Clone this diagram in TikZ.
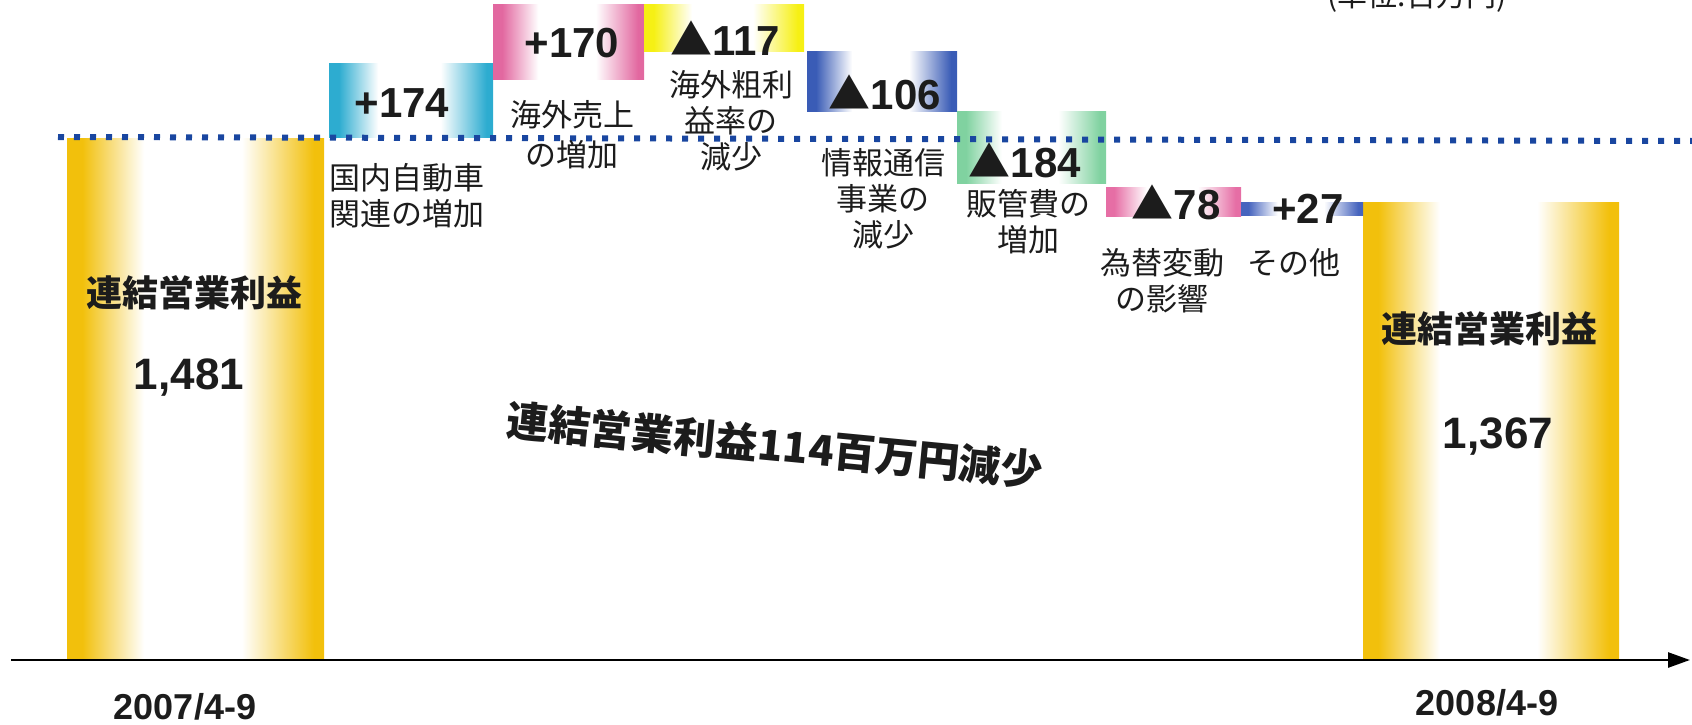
\documentclass[tikz,border=0pt]{standalone}
\usepackage{fontspec}
\setmainfont{Liberation Sans}
\newfontfamily\cjk{Noto Sans CJK JP}
\usetikzlibrary{arrows.meta}

\definecolor{gold}{RGB}{242,192,12}
\definecolor{cyanb}{RGB}{45,172,208}
\definecolor{pinka}{RGB}{226,104,160}
\definecolor{yelb}{RGB}{246,240,20}
\definecolor{blueb}{RGB}{58,92,182}
\definecolor{greenb}{RGB}{128,210,160}
\definecolor{pinkb}{RGB}{230,110,165}
\definecolor{bluec}{RGB}{70,100,190}
\definecolor{ink}{RGB}{28,28,28}
\definecolor{dotblue}{RGB}{25,70,160}

\newcommand\mkshade[2]{\pgfdeclarehorizontalshading{#1}{100bp}{color(0bp)=(#2); color(25bp)=(#2); color(28bp)=(#2); color(40bp)=(white); color(59bp)=(white); color(73bp)=(#2); color(100bp)=(#2)}}
\mkshade{shgold}{gold}
\mkshade{shcyan}{cyanb}
\mkshade{shpinka}{pinka}
\mkshade{shyel}{yelb}
\mkshade{shblue}{blueb}
\mkshade{shgreen}{greenb}
\mkshade{shpinkb}{pinkb}
\mkshade{shbluec}{bluec}

\tikzset{
  box/.style={inner sep=0pt, outer sep=0pt, draw=none},
  num/.style={font=\fontsize{42}{46}\selectfont\bfseries, text=ink, inner sep=0pt},
  lab/.style={font=\cjk\fontsize{31}{36}\selectfont, text=ink, inner sep=0pt, align=center},
  barlab/.style={font=\cjk\bfseries\fontsize{36}{40}\selectfont, text=ink, inner sep=0pt},
  barnum/.style={font=\fontsize{44}{48}\selectfont\bfseries, text=ink, inner sep=0pt},
  datelab/.style={font=\fontsize{36}{40}\selectfont\bfseries, text=ink, inner sep=0pt},
  dotline/.style={draw=dotblue, line width=6pt, dash pattern=on 6pt off 10pt},
  axisline/.style={draw=black, line width=2.6pt, -{Triangle[length=22pt,width=15pt]}}
}
\newcommand\tri{{\cjk\bfseries ▲}}

\begin{document}
\begin{tikzpicture}[x=1pt,y=-1pt]
\useasboundingbox (0,0) rectangle (1692,725);

% main bars
\node[box, shading=shgold, minimum width=257pt, minimum height=522pt] (barL) at (195.5,399) {};
\node[box, shading=shgold, minimum width=256pt, minimum height=458pt] (barR) at (1491,431) {};

% step boxes
\node[box, shading=shcyan,  minimum width=164pt, minimum height=73pt] (b1) at (411,100.5) {};
\node[box, shading=shpinka, minimum width=151pt, minimum height=75pt] (b2) at (568.5,42.5) {};
\node[box, shading=shyel,   minimum width=160pt, minimum height=47pt] (b3) at (724,28.5) {};
\node[box, shading=shblue,  minimum width=150pt, minimum height=59pt] (b4) at (882,81.5) {};
\node[box, shading=shgreen, minimum width=149pt, minimum height=72pt] (b5) at (1031.5,147) {};
\node[box, shading=shpinkb, minimum width=135pt, minimum height=29pt] (b6) at (1173.5,201.5) {};
\node[box, shading=shbluec, minimum width=122pt, minimum height=13pt] (b7) at (1302,208.5) {};

% dotted reference line
\coordinate (dl) at (58,137);
\coordinate (dr) at (1692,141);
\draw[dotline] (dl) -- (dr);

% axis
\coordinate (ax0) at (11,660);
\coordinate (ax1) at (1690,660);
\draw[axisline] (ax0) -- (ax1);

% step values
\node[num] (t1) at (402,103) {+174};
\node[num] (t2) at (572,43) {+170};
\node[num] (t3) at (725,38) {\tri117};
\node[num] (t4) at (885,92) {\tri106};
\node[num] (t5) at (1025,160) {\tri184};
\node[num] (t6) at (1176,202) {\tri78};
\node[num] (t7) at (1308,209) {+27};

% step labels
\node[lab, anchor=west, align=left] (l1) at (329,196) {国内自動車\\関連の増加};
\node[lab, font=\cjk\fontsize{31}{40}\selectfont] (l2) at (572,135) {海外売上\\の増加};
\node[lab] (l3) at (731,121) {海外粗利\\益率の\\減少};
\node[lab] (l4) at (883,199) {情報通信\\事業の\\減少};
\node[lab] (l5) at (1028,221.5) {販管費の\\増加};
\node[lab] (l6) at (1162,281) {為替変動\\の影響};
\node[lab] (l7) at (1294,263) {その他};

% bar texts
\node[barlab] (bl1) at (194,293) {連結営業利益};
\node[barnum] (bn1) at (189,378) {1,481};
\node[barlab] (bl2) at (1489,329) {連結営業利益};
\node[barnum] (bn2) at (1498,437) {1,367};

% dates
\node[datelab] (d1) at (185,707) {2007/4-9};
\node[datelab] (d2) at (1487,703) {2008/4-9};

% slanted summary
\node[font=\cjk\bfseries\fontsize{42}{46}\selectfont, text=ink, inner sep=0pt, rotate=-5.5] (sum) at (775,445) {連結営業利益114百万円減少};

% unit (cut off at top)
\node[font=\cjk\fontsize{30}{34}\selectfont, text=ink, inner sep=0pt, anchor=base] (unit) at (1417,7) {(単位:百万円)};
\end{tikzpicture}
\end{document}
